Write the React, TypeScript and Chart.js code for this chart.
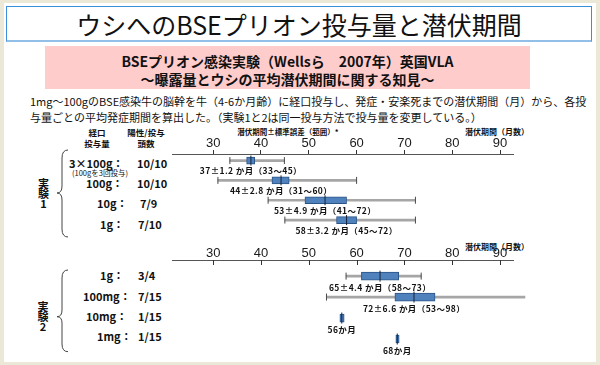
import React, { useEffect, useRef } from 'react';
import { Chart, registerables } from 'chart.js';
Chart.register(...registerables);

// ---------- data ----------
const tickValues = [30, 40, 50, 60, 70, 80, 90];

const exp1Doses = ['3×100g：', '100g：', '10g：', '1g：'];
const exp1Positive = ['10/10', '10/10', '7/9', '7/10'];
const exp1Low: (number | null)[] = [33.5, 31.0, 41.5, 45.0];
const exp1Q1 = [37.0, 42.3, 49.2, 55.8];
const exp1Median = [37.9, 44.2, 53.4, 57.9];
const exp1Q3 = [38.7, 45.9, 57.9, 60.0];
const exp1High: (number | null)[] = [44.9, 60.0, 72.3, 72.3];
const exp1Labels = ['37±1.2 か月（33～45）', '44±2.8 か月（31～60）', '53±4.9 か月（41～72）', '58±3.2 か月（45～72）'];

const exp2Doses = ['1g：', '100mg：', '10mg：', '1mg：'];
const exp2Positive = ['3/4', '7/15', '1/15', '1/15'];
const exp2Low: (number | null)[] = [57.8, 53.7, null, null];
const exp2Q1 = [61.0, 68.0, 56.5, 68.2];
const exp2Median = [64.9, 72.0, 56.9, 68.5];
const exp2Q3 = [68.8, 76.4, 57.4, 68.9];
const exp2High: (number | null)[] = [73.5, 95.2, null, null];
const exp2Labels = ['65±4.4 か月（58～73）', '72±6.6 か月（53～98）', '56か月', '68か月'];

const titleText = 'ウシへのBSEプリオン投与量と潜伏期間';
const subtitleLines = ['BSEプリオン感染実験（Wellsら　2007年）英国VLA', '～曝露量とウシの平均潜伏期間に関する知見～'];
const paragraphLines = [
  '1mg～100gのBSE感染牛の脳幹を牛（4-6か月齢）に経口投与し、発症・安楽死までの潜伏期間（月）から、各投',
  '与量ごとの平均発症期間を算出した。（実験1と2は同一投与方法で投与量を変更している。）',
];

const CJK = "'Noto Sans CJK JP', 'Noto Sans', sans-serif";

const boxLabelPlugin = {
  id: 'boxLabels',
  afterDatasetsDraw(chart: any, _args: any, opts: any) {
    const { ctx } = chart;
    const x = chart.scales.x;
    const y = chart.scales.y;
    ctx.save();
    ctx.font = `bold 8.5px "Noto Sans CJK JP"`;
    try {
      (ctx as any).letterSpacing = '0.4px';
    } catch (e) {}
    ctx.fillStyle = '#111';
    ctx.textAlign = 'center';
    ctx.textBaseline = 'middle';
    (opts.labels || []).forEach((t: string, i: number) => {
      ctx.fillText(t, x.getPixelForValue(opts.at[i]), y.getPixelForValue(i) + opts.offset);
    });
    ctx.restore();
  },
};

const ticksBelowPlugin = {
  id: 'ticksBelow',
  afterDraw(chart: any, _args: any, opts: any) {
    if (!opts.enabled) return;
    const { ctx, chartArea } = chart;
    const x = chart.scales.x;
    ctx.save();
    ctx.strokeStyle = '#333';
    ctx.lineWidth = 1;
    x.ticks.forEach((t: any) => {
      const px = Math.round(x.getPixelForValue(t.value)) + 0.5;
      ctx.beginPath();
      ctx.moveTo(px, chartArea.top);
      ctx.lineTo(px, chartArea.top + opts.length);
      ctx.stroke();
    });
    ctx.restore();
  },
};

type BoxProps = {
  top: number;
  height: number;
  axisHeight: number;
  padBottom: number;
  rowMin: number;
  rowMax: number;
  low: (number | null)[];
  q1: number[];
  median: number[];
  q3: number[];
  high: (number | null)[];
  labels: string[];
  boxThickness: number;
  medianRadius: number;
  labelOffset: number;
  ticksBelow: boolean;
};

function BoxChart(p: BoxProps) {
  const ref = useRef<HTMLCanvasElement>(null);
  useEffect(() => {
    if (!ref.current) return;
    const rows = p.q1.map((_, i) => i);
    const whiskerData = rows.filter((i) => p.low[i] != null).map((i) => ({ x: [p.low[i], p.high[i]], y: i }));
    const capData = rows.flatMap((i) =>
      p.low[i] == null ? [] : [{ x: p.low[i], y: i }, { x: p.high[i], y: i }]
    );
    const boxData = rows.map((i) => ({ x: [p.q1[i], p.q3[i]], y: i }));
    const medData = rows.map((i) => ({ x: p.median[i], y: i }));
    const chart = new Chart(ref.current, {
      type: 'bar',
      data: {
        datasets: [
          {
            type: 'scatter',
            data: medData,
            pointStyle: 'line',
            pointRotation: 90,
            pointRadius: p.medianRadius,
            pointBorderColor: '#14233a',
            pointBorderWidth: 1,
            order: 0,
            clip: false,
          } as any,
          {
            type: 'bar',
            data: boxData,
            backgroundColor: '#4F81BD',
            borderColor: '#2C5587',
            borderWidth: 1,
            borderSkipped: false,
            barThickness: p.boxThickness,
            grouped: false,
            order: 1,
            clip: false,
          } as any,
          {
            type: 'scatter',
            data: capData,
            pointStyle: 'line',
            pointRotation: 90,
            pointRadius: 3.5,
            pointBorderColor: '#4a4a4a',
            pointBorderWidth: 1,
            order: 2,
            clip: false,
          } as any,
          {
            type: 'bar',
            data: whiskerData,
            backgroundColor: '#A6A6A6',
            borderWidth: 0,
            barThickness: 2,
            grouped: false,
            order: 3,
            clip: false,
          } as any,
        ],
      },
      options: {
        indexAxis: 'y',
        animation: false,
        responsive: false,
        events: [],
        layout: { padding: { left: 172, right: 87, top: 0, bottom: p.padBottom }, autoPadding: false },
        plugins: {
          legend: { display: false },
          tooltip: { enabled: false },
          boxLabels: { labels: p.labels, at: p.median, offset: p.labelOffset },
          ticksBelow: { enabled: p.ticksBelow, length: 5 },
        } as any,
        scales: {
          x: {
            type: 'linear',
            position: 'top',
            min: 21.4,
            max: 92.7,
            offset: false,
            beginAtZero: false,
            afterBuildTicks: (axis: any) => {
              axis.ticks = tickValues.map((value) => ({ value }));
            },
            afterFit: (axis: any) => {
              axis.height = p.axisHeight;
            },
            grid: {
              offset: false,
              drawOnChartArea: false,
              drawTicks: !p.ticksBelow,
              tickLength: 4,
              color: '#333',
              lineWidth: 1,
            },
            border: { display: true, color: '#555', width: 1 },
            ticks: {
              padding: 0,
              color: '#1a1a1a',
              autoSkip: false,
              maxRotation: 0,
              font: { family: "'Liberation Sans', Arial, sans-serif", size: 13, lineHeight: 1 },
            },
          },
          y: {
            type: 'linear',
            reverse: true,
            min: p.rowMin,
            max: p.rowMax,
            offset: false,
            beginAtZero: false,
            grid: { offset: false },
            display: false,
          },
        },
      } as any,
      plugins: [boxLabelPlugin, ticksBelowPlugin],
    });
    return () => chart.destroy();
  }, []);
  return (
    <canvas
      ref={ref}
      width={600}
      height={p.height}
      style={{ position: 'absolute', left: 0, top: p.top, width: 600, height: p.height }}
    />
  );
}

function T(props: {
  x: number;
  y: number;
  size: number;
  bold?: boolean;
  center?: boolean;
  children: React.ReactNode;
}) {
  return (
    <div
      style={{
        position: 'absolute',
        left: props.x,
        top: props.y - props.size / 2,
        fontSize: props.size,
        lineHeight: `${props.size}px`,
        fontWeight: props.bold ? 700 : 400,
        whiteSpace: 'nowrap',
        color: '#111',
        fontFamily: CJK,
        transform: props.center ? 'translateX(-50%)' : undefined,
      }}
    >
      {props.children}
    </div>
  );
}

export default function App() {
  const exp1Y = [163, 183, 203, 224];
  const exp1DoseX = [69, 86, 97, 100];
  const exp1PosX = [137, 137, 140, 138];
  const exp2Y = [275.7, 296.7, 316.7, 336.7];
  const exp2DoseX = [100, 83, 86, 97];
  const exp2PosX = [138, 138, 138, 138];
  return (
    <div
      style={{
        position: 'absolute',
        left: 0,
        top: 0,
        width: 600,
        height: 365,
        background: '#ECE8D8',
        overflow: 'hidden',
        fontFamily: CJK,
      }}
    >
      <div style={{ position: 'absolute', left: 4, top: 3, width: 592, height: 359, background: '#fff' }} />
      {/* title box */}
      <div
        style={{
          position: 'absolute',
          left: 6,
          top: 6,
          width: 586,
          height: 36,
          boxSizing: 'border-box',
          border: '1px solid #3A8EDB',
          borderBottom: '2px solid #92BFE7',
        }}
      />
      <T x={299} y={24} size={25} center>
        {titleText}
      </T>
      {/* pink box */}
      <div style={{ position: 'absolute', left: 45, top: 46, width: 485, height: 43, background: '#FFCCCC' }} />
      <T x={287.5} y={60.5} size={14} bold center>
        {subtitleLines[0]}
      </T>
      <T x={287.5} y={78.5} size={14} bold center>
        {subtitleLines[1]}
      </T>
      {/* paragraph */}
      <T x={30} y={101} size={11}>
        {paragraphLines[0]}
      </T>
      <T x={30} y={117} size={11}>
        {paragraphLines[1]}
      </T>
      {/* headers */}
      <T x={97} y={132} size={8.5} bold center>経口</T>
      <T x={97} y={143} size={8.5} bold center>投与量</T>
      <T x={146} y={132} size={8.5} bold center>陽性/投与</T>
      <T x={146} y={143} size={8.5} bold center>頭数</T>
      <T x={288} y={132} size={7.5} bold center>潜伏期間±標準誤差（範囲）*</T>
      <T x={465} y={132} size={8} bold>潜伏期間（月数）</T>
      <T x={465} y={246.5} size={8} bold>潜伏期間（月数）</T>

      {/* experiment 1 labels */}
      {exp1Doses.map((d, i) => (
        <T key={'d1' + i} x={exp1DoseX[i]} y={exp1Y[i]} size={11} bold>
          {d}
        </T>
      ))}
      {exp1Positive.map((d, i) => (
        <T key={'p1' + i} x={exp1PosX[i]} y={exp1Y[i]} size={11} bold>
          {d}
        </T>
      ))}
      <T x={72} y={172.7} size={7.5}>(100gを3回投与)</T>
      <T x={43.5} y={183} size={11} bold center>実</T>
      <T x={43.5} y={193} size={11} bold center>験</T>
      <T x={43.5} y={203} size={11} bold center>1</T>

      {/* experiment 2 labels */}
      {exp2Doses.map((d, i) => (
        <T key={'d2' + i} x={exp2DoseX[i]} y={exp2Y[i]} size={11} bold>
          {d}
        </T>
      ))}
      {exp2Positive.map((d, i) => (
        <T key={'p2' + i} x={exp2PosX[i]} y={exp2Y[i]} size={11} bold>
          {d}
        </T>
      ))}
      <T x={43} y={306.7} size={11} bold center>実</T>
      <T x={43} y={316.7} size={11} bold center>験</T>
      <T x={43} y={326.7} size={11} bold center>2</T>

      {/* braces */}
      <svg width={600} height={365} style={{ position: 'absolute', left: 0, top: 0 }}>
        <path
          d="M68,150 Q62,150 62,158 L62,186 Q62,193 57,193 Q62,193 62,200 L62,229 Q62,237 68,237"
          fill="none"
          stroke="#444"
          strokeWidth={1}
        />
        <path
          d="M68,270 Q62,270 62,278 L62,310 Q62,316.7 57,316.7 Q62,316.7 62,323 L62,344 Q62,351.7 68,351.7"
          fill="none"
          stroke="#444"
          strokeWidth={1}
        />
      </svg>

      <BoxChart
        top={114}
        height={131}
        axisHeight={40}
        padBottom={13}
        rowMin={-0.33}
        rowMax={3.6}
        low={exp1Low}
        q1={exp1Q1}
        median={exp1Median}
        q3={exp1Q3}
        high={exp1High}
        labels={exp1Labels}
        boxThickness={7}
        medianRadius={5}
        labelOffset={10.5}
        ticksBelow={false}
      />
      <BoxChart
        top={222}
        height={140}
        axisHeight={38}
        padBottom={10}
        rowMin={-0.77}
        rowMax={3.62}
        low={exp2Low}
        q1={exp2Q1}
        median={exp2Median}
        q3={exp2Q3}
        high={exp2High}
        labels={exp2Labels}
        boxThickness={8}
        medianRadius={5.5}
        labelOffset={11.5}
        ticksBelow={true}
      />
    </div>
  );
}
